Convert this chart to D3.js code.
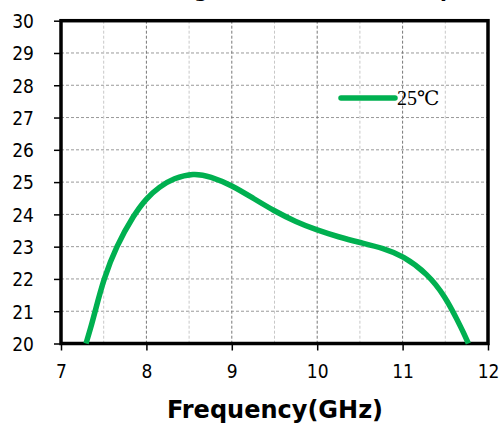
<!DOCTYPE html>
<html><head><meta charset="utf-8">
<script src="https://cdn.jsdelivr.net/npm/d3@7"></script>
<style>body{margin:0;background:#fff}svg{display:block}</style>
</head><body><svg id="c" width="501" height="424"></svg>
<script>
const freq = [7.293, 7.35, 7.40, 7.50, 7.645, 7.856, 8.0, 8.15, 8.32, 8.55, 8.75, 9.0, 9.25, 9.5, 9.75, 10.0, 10.25, 10.5, 10.78, 11.0, 11.29, 11.5, 11.64, 11.72, 11.77];
const gain25 = [20.0, 20.5, 21.0, 22.0, 23.0, 24.0, 24.5, 24.85, 25.12, 25.28, 25.18, 24.9, 24.5, 24.1, 23.77, 23.51, 23.3, 23.13, 22.95, 22.72, 22.17, 21.45, 20.73, 20.3, 20.0];
const xTicks = [7, 8, 9, 10, 11, 12];
const xMinor = [7.5, 8.5, 9.5, 10.5, 11.5];
const yTicks = [20, 21, 22, 23, 24, 25, 26, 27, 28, 29, 30];
const seriesName = "25℃";
const title = "Small Signal Gain (dB) vs Temp(℃)";
const xTitle = "Frequency(GHz)";

const L = 61, R = 488, T = 20.7, B = 343.5;
const svg = d3.select("#c");
const x = d3.scaleLinear().domain([7, 12]).range([L, R]);
const y = d3.scaleLinear().domain([20, 30]).range([B, T]);
const tickFont = "'DejaVu Sans Condensed', 'DejaVu Sans', sans-serif";

// title (clipped at top, as in the reference)
svg.append("text").attr("x", 300).attr("y", -3).attr("text-anchor", "middle")
  .attr("font-family", "DejaVu Sans").attr("font-weight", "bold").attr("font-size", 20)
  .text(title);

// grid
const g = svg.append("g");
g.selectAll(".hg").data(yTicks.slice(1, -1)).join("line")
  .attr("x1", L).attr("x2", R).attr("y1", d => y(d)).attr("y2", d => y(d))
  .attr("stroke", "#999").attr("stroke-width", 1).attr("stroke-dasharray", "3,2");
g.selectAll(".vm").data(xMinor).join("line")
  .attr("y1", T).attr("y2", B).attr("x1", d => x(d)).attr("x2", d => x(d))
  .attr("stroke", "#c8c8c8").attr("stroke-width", 1).attr("stroke-dasharray", "3,2");
g.selectAll(".vM").data(xTicks.slice(1, -1)).join("line")
  .attr("y1", T).attr("y2", B).attr("x1", d => x(d)).attr("x2", d => x(d))
  .attr("stroke", "#777").attr("stroke-width", 1).attr("stroke-dasharray", "3,2");

// axes
const ya = svg.append("g").attr("transform", `translate(${L},0)`)
  .call(d3.axisLeft(y).tickValues(yTicks).tickSize(7).tickPadding(20).tickFormat(d3.format("d")));
ya.select(".domain").remove();
ya.selectAll("line").attr("stroke", "#000").attr("stroke-width", 1.5);
ya.selectAll("text").attr("font-family", tickFont).attr("font-size", 19).attr("fill", "#000").attr("dy", "0.36em");

const xa = svg.append("g").attr("transform", `translate(0,${B})`)
  .call(d3.axisBottom(x).tickValues(xTicks).tickSize(7).tickPadding(14).tickFormat(d3.format("d")));
xa.select(".domain").remove();
xa.selectAll("line").attr("stroke", "#000").attr("stroke-width", 1.5);
xa.selectAll("text").attr("font-family", tickFont).attr("font-size", 19).attr("fill", "#000");

// frame
svg.append("rect").attr("x", L).attr("y", T).attr("width", R - L).attr("height", B - T)
  .attr("fill", "none").attr("stroke", "#000").attr("stroke-width", 3.5);

// curve
const line = d3.line().x((d, i) => x(freq[i])).y(d => y(d)).curve(d3.curveBasis);
svg.append("path").datum(gain25).attr("d", line)
  .attr("fill", "none").attr("stroke", "#00B050").attr("stroke-width", 5.5);

// legend
svg.append("line").attr("x1", 341).attr("x2", 395).attr("y1", 98).attr("y2", 98)
  .attr("stroke", "#00B050").attr("stroke-width", 5.5).attr("stroke-linecap", "round");
svg.append("text").attr("x", 397).attr("y", 105)
  .attr("font-family", "Liberation Serif, DejaVu Serif, serif").attr("font-size", 20).attr("fill", "#000")
  .text(seriesName);

// x title
svg.append("text").attr("x", 275).attr("y", 418).attr("text-anchor", "middle")
  .attr("font-family", "DejaVu Sans").attr("font-weight", "bold").attr("font-size", 24).attr("fill", "#000")
  .text(xTitle);
</script></body></html>
